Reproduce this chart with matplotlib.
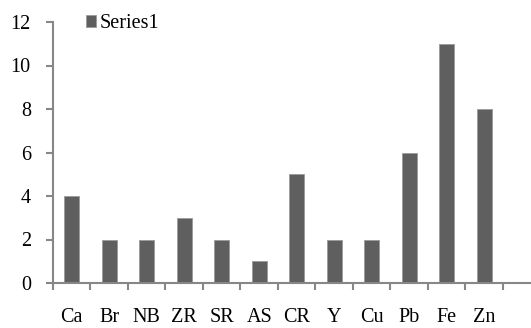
import numpy as np
import matplotlib.pyplot as plt
from matplotlib.ticker import FixedLocator

# element counts
elements = ['Ca', 'Br', 'NB', 'ZR', 'SR', 'AS', 'CR', 'Y', 'Cu', 'Pb', 'Fe', 'Zn']
counts = [4, 2, 2, 3, 2, 1, 5, 2, 2, 6, 11, 8]

plt.rcParams['font.family'] = ['Liberation Serif', 'DejaVu Serif']
plt.rcParams['font.size'] = 14.5

BAR_COLOR = '#5f5f5f'
AXIS_COLOR = '#878787'

fig = plt.figure(figsize=(5.31, 3.28), dpi=100)
# axes runs off the right edge like the original (13th slot is cut)
ax = fig.add_axes([53 / 531, 45 / 328, 478 / 531, 261 / 328])

x = np.arange(len(elements))
ax.bar(x, counts, width=0.4, color=BAR_COLOR, edgecolor='#9a9a9a',
       linewidth=0.6, label='Series1', zorder=2)

ax.set_xlim(-0.5, 12.25)
ax.set_ylim(0, 12)
ax.set_yticks(np.arange(0, 13, 2))

# category labels centred, tick marks on category boundaries
ax.set_xticks(x)
ax.set_xticklabels(elements)
ax.tick_params(axis='x', which='major', length=0, pad=18)
ax.xaxis.set_minor_locator(FixedLocator(np.arange(-0.5, 12.0, 1.0)))
ax.tick_params(axis='x', which='minor', length=5, width=1.5,
               color=AXIS_COLOR, direction='out')
ax.tick_params(axis='y', length=5, width=1.5, color=AXIS_COLOR,
               direction='out', pad=11)

for side in ['top', 'right']:
    ax.spines[side].set_visible(False)
for side in ['left', 'bottom']:
    ax.spines[side].set_color(AXIS_COLOR)
    ax.spines[side].set_linewidth(1.5)

ax.legend(loc='upper left', bbox_to_anchor=(86 / 531, 1 - 14 / 328),
          bbox_transform=fig.transFigure, frameon=False, borderpad=0,
          borderaxespad=0, handlelength=0.5, handleheight=0.5,
          handletextpad=0.2, fontsize=14.5)

plt.savefig('out.png', dpi=100)
